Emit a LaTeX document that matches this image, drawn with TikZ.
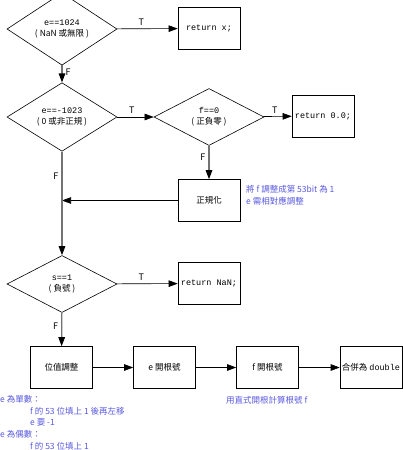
\documentclass[tikz,border=0pt]{standalone}
\usepackage{fontspec}
\setmainfont{Noto Sans CJK TC}
\newfontfamily\codefont{Liberation Mono}
\usetikzlibrary{shapes.geometric,arrows.meta}
\definecolor{notecol}{RGB}{90,90,225}
\tikzset{
    cond/.style={diamond,draw,line width=0.6pt,minimum width=110pt,minimum height=57pt,inner sep=0pt,align=center,font=\fontsize{8.5}{11}\selectfont},
    act/.style={rectangle,draw,line width=0.6pt,minimum width=62pt,minimum height=42pt,inner sep=0.5pt,align=center,font=\fontsize{8.5}{10}\selectfont},
    flow/.style={draw,line width=0.6pt,-{Triangle[length=9pt,width=6.5pt,color=black]}},
    trunk/.style={flow,draw=black!55,line width=1.2pt},
    lbl/.style={font=\fontsize{9}{10}\selectfont,inner sep=3pt},
    remark/.style={text=notecol,font=\fontsize{8.5}{11.8}\selectfont,align=left,inner sep=0pt}
}
\begin{document}
\begin{tikzpicture}[x=1pt,y=-1pt]
    \useasboundingbox[fill=white] (0,0) rectangle (402,450);
    % conditions
    \node[cond] (NaN) at (62,29) {{\codefont e==1024}\\( NaN 或無限 )};
    \node[cond] (Sub) at (62,117) {{\codefont e==-1023}\\( 0 或非正規 )};
    \node[cond] (Zero) at (209,117) {{\codefont f==0}\\( 正負零 )};
    \node[cond] (Neg) at (62,284) {{\codefont s==1}\\( 負號 )};
    % returns
    \node[act] (RetX) at (209,28.5) {\codefont return x;};
    \node[act] (RetZero) at (323,116) {\codefont return 0.0;};
    \node[act] (RetNaN) at (209,283.5) {\codefont return NaN;};
    \node[act] (Norm) at (209,200.5) {正規化};
    % steps
    \node[act] (Adj) at (61.5,367.5) {位值調整};
    \node[act] (ESqrt) at (164.5,367.5) {e 開根號};
    \node[act] (FSqrt) at (267.5,367.5) {f 開根號};
    \node[act] (Merge) at (371,367.5) {合併為 {\codefont double}};
    % notes
    \node[remark,anchor=north west] (NormNote) at (246,185) {將 f 調整成第 53bit 為 1\\e 需相對應調整};
    \node[remark,anchor=north west] (FNote) at (226,396) {用直式開根計算根號 f};
    \node[remark,anchor=north west] (AdjNote) at (0,395) {e 為單數：\\
        \hspace*{30pt}f 的 53 位填上 1 後再左移\\
        \hspace*{30pt}e 要 -1\\
        e 為偶數：\\
        \hspace*{30pt}f 的 53 位填上 1};
    % connectors
    \draw[flow] (NaN) -- node[lbl,above,pos=0.4] {T} (RetX);
    \draw[trunk] (NaN) -- node[lbl,right,pos=0.4] {F} (Sub);
    \draw[flow] (Sub) -- node[lbl,above,pos=0.4] {T} (Zero);
    \draw[flow] (Zero) -- node[lbl,above,pos=0.4] {T} (RetZero);
    \draw[trunk] (Zero) -- node[lbl,left,pos=0.35] {F} (Norm);
    \draw[flow] (Norm) -- (Norm -| Sub.south);
    \draw[trunk] (Sub) -- node[lbl,left,pos=0.24] {F} (Neg);
    \draw[flow] (Neg) -- node[lbl,above,pos=0.4] {T} (RetNaN);
    \draw[trunk] (Neg) -- node[lbl,left,pos=0.4] {F} (Adj);
    \draw[flow] (Adj) -- (ESqrt);
    \draw[flow] (ESqrt) -- (FSqrt);
    \draw[flow] (FSqrt) -- (Merge);
\end{tikzpicture}
\end{document}
